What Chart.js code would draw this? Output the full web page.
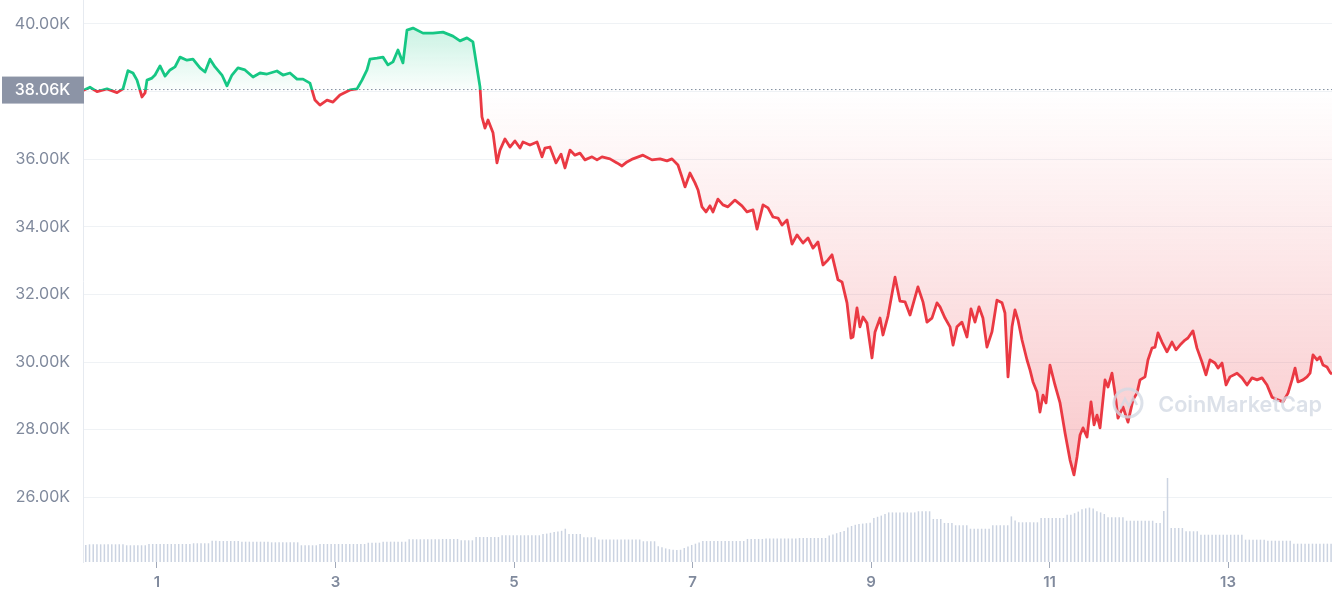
<!DOCTYPE html>
<html>
<head>
<meta charset="utf-8">
<script src="https://cdn.jsdelivr.net/npm/chart.js@4.4.1/dist/chart.umd.min.js"></script>
<style>
  html, body { margin: 0; padding: 0; background: #fff; }
  #wrap { width: 1332px; height: 600px; position: relative; }
</style>
</head>
<body>
<div id="wrap"><canvas id="chart"></canvas></div>
<script>
// BTC price (thousands USD) against day of month
const priceDays = [
  0.171, 0.249, 0.328, 0.440, 0.552, 0.619, 0.675, 0.731, 0.776, 0.832, 0.866, 0.888, 0.944, 0.978,
  1.034, 1.090, 1.146, 1.202, 1.258, 1.336, 1.403, 1.482, 1.538, 1.594, 1.650, 1.728, 1.784, 1.840, 1.907, 1.986,
  2.076, 2.154, 2.232, 2.344, 2.412, 2.490, 2.569, 2.636, 2.714, 2.770, 2.826, 2.905, 2.972,
  3.050, 3.162, 3.241, 3.297, 3.353, 3.386, 3.465, 3.532, 3.588, 3.644, 3.700, 3.756, 3.801, 3.868, 3.980,
  4.092, 4.204, 4.316, 4.395, 4.473, 4.540, 4.619, 4.641, 4.675, 4.709, 4.765, 4.809, 4.843, 4.899, 4.955,
  5.011, 5.067, 5.101, 5.179, 5.258, 5.314, 5.347, 5.403, 5.471, 5.527, 5.571, 5.627, 5.683, 5.739, 5.795, 5.874, 5.930, 5.986,
  6.075, 6.154, 6.210, 6.266, 6.333, 6.445, 6.546, 6.636, 6.714, 6.770, 6.837, 6.882, 6.916, 6.972,
  7.028, 7.062, 7.106, 7.151, 7.196, 7.229, 7.285, 7.341, 7.397, 7.476, 7.554, 7.610, 7.678, 7.723, 7.790, 7.846, 7.902, 7.958,
  8.003, 8.059, 8.115, 8.171, 8.238, 8.294, 8.350, 8.406, 8.462, 8.518, 8.563, 8.630, 8.675, 8.731, 8.776, 8.798, 8.843, 8.876, 8.910, 8.955,
  9.011, 9.045, 9.101, 9.134, 9.190, 9.269, 9.325, 9.381, 9.437, 9.526, 9.582, 9.627, 9.683, 9.739, 9.773, 9.829, 9.885, 9.919, 9.963,
  10.019, 10.075, 10.120, 10.165, 10.210, 10.254, 10.299, 10.355, 10.411, 10.468, 10.501, 10.535, 10.580, 10.613, 10.647, 10.692, 10.748, 10.782, 10.815, 10.860, 10.893, 10.927, 10.961,
  11.005, 11.061, 11.118, 11.174, 11.230, 11.274, 11.308, 11.342, 11.375, 11.420, 11.465, 11.499, 11.532, 11.566, 11.622, 11.655, 11.700, 11.734, 11.767, 11.823, 11.879, 11.935, 11.980,
  12.014, 12.070, 12.103, 12.148, 12.182, 12.215, 12.260, 12.316, 12.372, 12.417, 12.462, 12.518, 12.551, 12.607, 12.652, 12.708, 12.753, 12.798, 12.854, 12.888, 12.933, 12.978,
  13.022, 13.101, 13.157, 13.213, 13.269, 13.325, 13.381, 13.437, 13.493, 13.560, 13.616, 13.672, 13.717, 13.751, 13.784, 13.840, 13.885, 13.919, 13.952, 13.997,
  14.030, 14.064, 14.109, 14.142, 14.165
];
const priceValues = [
  38.03, 38.13, 38.00, 38.08, 37.97, 38.08, 38.62, 38.55, 38.34, 37.84, 37.96, 38.34, 38.40, 38.49,
  38.76, 38.46, 38.64, 38.73, 39.02, 38.93, 38.96, 38.70, 38.58, 38.96, 38.73, 38.49, 38.17, 38.49, 38.70, 38.64,
  38.43, 38.55, 38.52, 38.61, 38.49, 38.55, 38.37, 38.37, 38.25, 37.75, 37.60, 37.75, 37.69,
  37.90, 38.05, 38.08, 38.34, 38.64, 38.96, 38.99, 39.02, 38.79, 38.88, 39.23, 38.85, 39.82, 39.88, 39.73,
  39.73, 39.76, 39.64, 39.50, 39.59, 39.47, 38.14, 37.25, 36.92, 37.16, 36.78, 35.89, 36.27, 36.60, 36.36,
  36.54, 36.33, 36.51, 36.42, 36.51, 36.07, 36.33, 36.36, 35.89, 36.15, 35.74, 36.27, 36.12, 36.18, 35.98, 36.07, 35.98, 36.07,
  36.01, 35.89, 35.80, 35.92, 36.01, 36.12, 35.98, 36.01, 35.95, 36.01, 35.83, 35.47, 35.18, 35.59,
  35.30, 35.09, 34.59, 34.44, 34.62, 34.44, 34.82, 34.65, 34.59, 34.79, 34.62, 34.44, 34.50, 33.93, 34.65, 34.56, 34.29, 34.26,
  34.05, 34.20, 33.49, 33.76, 33.52, 33.67, 33.37, 33.55, 32.87, 33.02, 33.17, 32.43, 32.37, 31.75, 30.71, 30.74, 31.60, 31.04, 31.33, 31.15,
  30.12, 30.89, 31.30, 30.80, 31.36, 32.51, 31.80, 31.78, 31.39, 32.22, 31.78, 31.18, 31.30, 31.75, 31.63, 31.30, 31.04, 30.50, 31.04,
  31.18, 30.74, 31.57, 31.18, 31.63, 31.30, 30.44, 30.89, 31.83, 31.75, 31.45, 29.56, 31.04, 31.54, 31.24, 30.65, 30.06, 29.76, 29.41, 29.11, 28.52, 29.02, 28.79,
  29.91, 29.32, 28.79, 27.90, 27.10, 26.66, 27.19, 27.84, 28.05, 27.78, 28.82, 28.14, 28.43, 28.05, 29.47, 29.26, 29.67, 29.08, 28.34, 28.67, 28.22, 28.88, 29.08,
  29.47, 29.56, 30.06, 30.41, 30.44, 30.86, 30.59, 30.30, 30.59, 30.36, 30.50, 30.65, 30.71, 30.92, 30.41, 30.00, 29.62, 30.06, 29.97, 29.82, 29.97, 29.32,
  29.56, 29.67, 29.53, 29.32, 29.53, 29.47, 29.53, 29.32, 28.96, 28.88, 28.82, 29.08, 29.47, 29.82, 29.41, 29.47, 29.56, 29.67, 30.21, 30.06,
  30.15, 29.91, 29.85, 29.70, 29.64
];
// hourly 24h volume (billions USD), one row per day
const volumeValues = [
  21.2, 22.1, 22.1, 22.1, 22.1, 22.1, 22.1, 22.1, 22.1, 22.1, 22.1, 20.9, 20.9, 20.9, 20.9, 20.9, 20.9, 22.5, 22.5, 22.5, 22.5, 22.5, 22.5, 22.5,
  22.5, 22.5, 22.5, 22.5, 22.5, 23.4, 23.4, 23.4, 23.4, 23.4, 26.6, 26.6, 26.2, 26.2, 26.2, 26.2, 26.2, 26.2, 25.4, 25.4, 25.4, 25.4, 25.4, 25.4,
  25.4, 25.4, 24.6, 24.6, 24.6, 24.6, 24.6, 24.6, 24.6, 24.6, 20.9, 20.9, 20.9, 20.9, 20.9, 22.5, 22.5, 22.5, 22.5, 22.5, 22.5, 22.5, 22.5, 22.5,
  22.5, 22.5, 22.5, 22.5, 24.1, 24.1, 24.1, 24.1, 25.4, 25.4, 25.4, 25.4, 25.4, 25.4, 25.4, 28.4, 28.4, 28.4, 28.4, 28.4, 28.4, 28.4, 28.4, 28.4,
  28.8, 28.8, 28.8, 28.8, 28.8, 27.1, 27.1, 27.1, 27.1, 31.2, 31.2, 31.2, 31.2, 31.2, 31.2, 31.2, 33.4, 33.4, 33.4, 33.4, 33.4, 33.4, 33.4, 33.4,
  33.4, 33.4, 33.4, 35.0, 35.5, 36.5, 37.5, 38.0, 39.0, 41.6, 35.0, 35.0, 35.0, 35.0, 30.9, 30.9, 30.9, 30.9, 28.1, 28.1, 28.1, 28.1, 28.1, 28.1,
  28.1, 28.1, 28.1, 28.1, 28.1, 28.1, 25.9, 25.9, 25.9, 25.9, 19.6, 18.3, 17.0, 16.0, 15.4, 15.0, 15.3, 17.5, 19.4, 21.3, 22.9, 24.4, 26.2, 26.2,
  26.2, 26.2, 26.2, 26.2, 26.2, 26.2, 26.2, 26.2, 26.2, 26.2, 28.8, 28.8, 28.8, 28.8, 28.8, 29.4, 29.4, 29.4, 29.4, 29.4, 29.4, 29.4, 29.4, 29.4,
  30.0, 30.0, 30.0, 30.0, 30.0, 30.0, 30.0, 30.0, 33.0, 34.5, 36.0, 37.5, 38.8, 43.0, 45.0, 46.5, 47.5, 48.0, 48.5, 49.0, 55.0, 56.5, 58.0, 60.0,
  62.0, 62.0, 62.0, 62.0, 62.0, 62.0, 62.0, 62.0, 63.4, 63.4, 63.4, 63.4, 53.8, 53.8, 53.8, 48.8, 48.8, 48.8, 45.9, 45.9, 45.9, 45.9, 41.6, 41.6,
  41.6, 41.6, 41.6, 41.6, 45.9, 45.9, 45.9, 45.9, 45.9, 57.0, 52.0, 49.6, 49.6, 49.6, 49.6, 49.6, 49.6, 55.0, 55.0, 55.0, 55.0, 55.0, 55.0, 55.0,
  59.0, 59.0, 61.0, 63.0, 66.0, 67.0, 68.0, 67.0, 63.4, 62.0, 60.0, 55.9, 55.9, 55.9, 55.9, 55.9, 51.6, 51.6, 51.6, 51.6, 51.6, 51.6, 51.6, 51.6,
  48.8, 48.8, 63.8, 105.0, 42.5, 42.5, 42.5, 42.5, 38.4, 38.4, 38.4, 38.4, 34.1, 34.1, 34.1, 34.1, 34.1, 34.1, 34.1, 34.1, 34.1, 34.1, 34.1, 34.1,
  27.9, 27.9, 27.9, 27.9, 27.9, 27.9, 26.6, 26.6, 26.6, 26.6, 26.6, 26.6, 26.6, 22.9, 22.9, 22.9, 22.9, 22.9, 22.9, 22.9, 22.9, 22.9, 22.9, 22.9
];
const baseValue = 38.06;
const yTicks = [26, 28, 30, 32, 34, 36, 38, 40];
const xTicks = [1, 3, 5, 7, 9, 11, 13];

const GREEN = '#16c784';
const RED = '#ea3943';
const GREY = '#808a9d';

Chart.defaults.font.family = 'Inter, "Noto Sans", sans-serif';

const pricePoints = priceDays.map((d, i) => ({ x: d, y: priceValues[i] }));
const volumeLabels = volumeValues.map((v, i) => i);

// split point of the gradients = where the baseline sits inside the chart area
function baseStop(chart) {
  const a = chart.chartArea;
  const yb = chart.scales.y.getPixelForValue(baseValue);
  return Math.min(1, Math.max(0, (yb - a.top) / (a.bottom - a.top)));
}

function lineColor(context) {
  const chart = context.chart;
  if (!chart.chartArea) return GREEN;
  const a = chart.chartArea;
  const f = baseStop(chart);
  const g = chart.ctx.createLinearGradient(0, a.top, 0, a.bottom);
  g.addColorStop(0, GREEN);
  g.addColorStop(f, GREEN);
  g.addColorStop(f, RED);
  g.addColorStop(1, RED);
  return g;
}

function fillColor(context) {
  const chart = context.chart;
  if (!chart.chartArea) return 'rgba(0,0,0,0)';
  const a = chart.chartArea;
  const f = baseStop(chart);
  const g = chart.ctx.createLinearGradient(0, a.top, 0, a.bottom);
  g.addColorStop(0, 'rgba(22,199,132,0.32)');
  g.addColorStop(f, 'rgba(22,199,132,0.02)');
  g.addColorStop(f, 'rgba(234,57,67,0.0)');
  g.addColorStop(1, 'rgba(234,57,67,0.34)');
  return g;
}

// dotted baseline, watermark and the price tag on the axis
const overlay = {
  id: 'overlay',
  afterDatasetsDraw(chart) {
    const { ctx, chartArea: a, scales: { y } } = chart;
    const yb = y.getPixelForValue(baseValue);

    ctx.save();
    ctx.setLineDash([1.5, 2.5]);
    ctx.strokeStyle = 'rgba(88,102,126,0.75)';
    ctx.lineWidth = 1;
    ctx.beginPath();
    ctx.moveTo(a.left, yb);
    ctx.lineTo(a.right, yb);
    ctx.stroke();
    ctx.restore();

    // CoinMarketCap watermark
    ctx.save();
    ctx.globalAlpha = 0.8;
    ctx.fillStyle = '#d3d9e3';
    ctx.strokeStyle = '#d3d9e3';
    ctx.textAlign = 'right';
    ctx.textBaseline = 'alphabetic';
    const label = 'CoinMarketCap';
    let size = 25;
    ctx.font = '600 ' + size + 'px Inter, sans-serif';
    size = size * 164 / ctx.measureText(label).width;
    ctx.font = '600 ' + size.toFixed(1) + 'px Inter, sans-serif';
    const tx = a.right - 10, ty = a.bottom - 150;
    ctx.fillText(label, tx, ty);
    const cx = tx - 164 - 30, cy = ty - 9;
    ctx.lineWidth = 3;
    ctx.beginPath();
    ctx.arc(cx, cy, 14, 0, Math.PI * 2);
    ctx.stroke();
    ctx.lineWidth = 2.5;
    ctx.beginPath();
    ctx.moveTo(cx - 8, cy + 6);
    ctx.lineTo(cx - 3, cy - 4);
    ctx.lineTo(cx + 1, cy + 3);
    ctx.lineTo(cx + 5, cy - 5);
    ctx.lineTo(cx + 9, cy + 2);
    ctx.stroke();
    ctx.restore();
  },
  afterDraw(chart) {
    const { ctx, chartArea: a, scales: { y } } = chart;
    const yb = y.getPixelForValue(baseValue);
    ctx.save();
    ctx.fillStyle = '#8c94a6';
    ctx.fillRect(2, yb - 13, a.left - 1, 27);
    ctx.fillStyle = '#ffffff';
    ctx.font = '500 16px Inter, sans-serif';
    ctx.textAlign = 'center';
    ctx.textBaseline = 'middle';
    ctx.fillText(baseValue.toFixed(2) + 'K', (a.left + 2) / 2, yb + 1);
    ctx.restore();
  }
};

new Chart(document.getElementById('chart'), {
  data: {
    datasets: [
      {
        type: 'line',
        label: 'Price',
        data: pricePoints,
        xAxisID: 'x',
        yAxisID: 'y',
        borderColor: lineColor,
        backgroundColor: fillColor,
        borderWidth: 2.8,
        borderJoinStyle: 'round',
        pointRadius: 0,
        tension: 0,
        fill: { target: { value: baseValue } },
        order: 0
      },
      {
        type: 'bar',
        label: 'Volume',
        data: volumeValues,
        xAxisID: 'xv',
        yAxisID: 'yv',
        backgroundColor: '#cbd3e1',
        categoryPercentage: 1,
        barPercentage: 0.8,
        order: 1
      }
    ]
  },
  options: {
    responsive: true,
    maintainAspectRatio: false,
    animation: false,
    layout: { padding: 0 },
    plugins: { legend: { display: false }, tooltip: { enabled: false } },
    scales: {
      x: {
        type: 'linear',
        position: 'bottom',
        min: priceDays[0],
        max: priceDays[priceDays.length - 1],
        afterBuildTicks: s => { s.ticks = xTicks.map(v => ({ value: v })); },
        afterFit: s => { s.height = 38; s.paddingLeft = 0; s.paddingRight = 0; },
        ticks: {
          autoSkip: false,
          maxRotation: 0,
          padding: 5,
          color: GREY,
          font: { size: 15, weight: '600' },
          callback: v => String(v)
        },
        grid: { drawOnChartArea: false, drawTicks: true, tickLength: 6, tickColor: '#a1a9b9' },
        border: { display: false }
      },
      xv: {
        type: 'category',
        labels: volumeLabels,
        display: false,
        offset: true
      },
      y: {
        position: 'left',
        min: 24.083,
        max: 40.71,
        afterBuildTicks: s => { s.ticks = yTicks.map(v => ({ value: v })); },
        afterFit: s => { s.width = 83; s.paddingTop = 0; s.paddingBottom = 0; },
        ticks: {
          padding: 13,
          color: GREY,
          font: { size: 16 },
          callback: v => v.toFixed(2) + 'K'
        },
        grid: { color: '#eff2f5', drawTicks: false },
        border: { display: true, color: '#e6eaf0' }
      },
      yv: {
        display: false,
        min: 0,
        max: 702.5
      }
    }
  },
  plugins: [overlay]
});
</script>
</body>
</html>
